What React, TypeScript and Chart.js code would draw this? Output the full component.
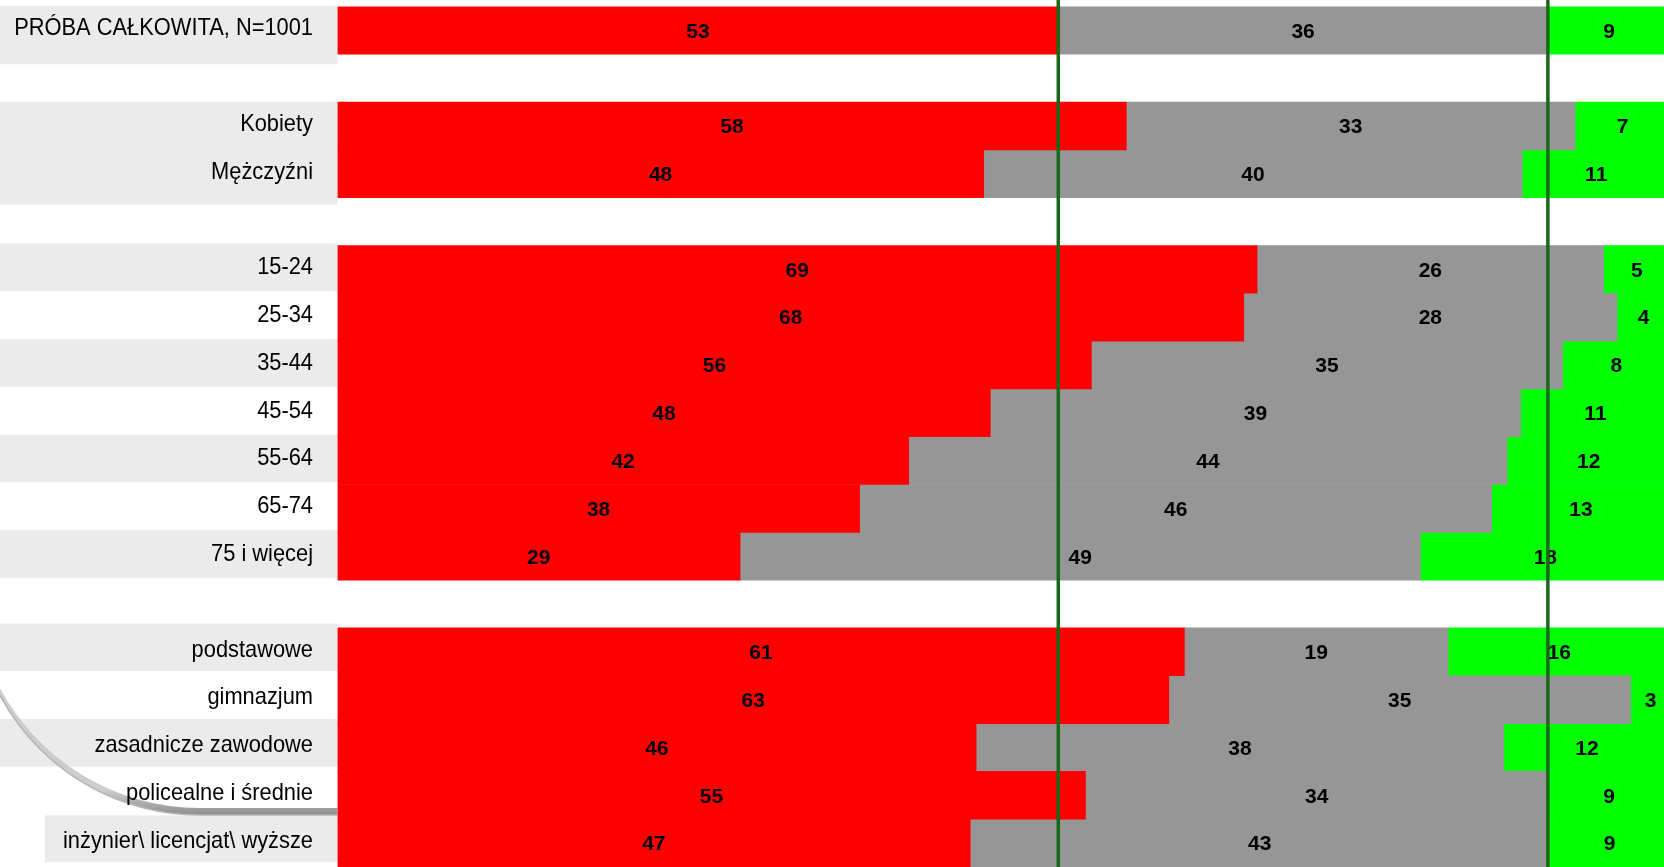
import React, { useEffect, useRef } from 'react';
import { Chart, registerables } from 'chart.js';

Chart.register(...registerables);

const categories = [
  'PRÓBA CAŁKOWITA, N=1001',
  '',
  'Kobiety',
  'Mężczyźni',
  '',
  '15-24',
  '25-34',
  '35-44',
  '45-54',
  '55-64',
  '65-74',
  '75 i więcej',
  '',
  'podstawowe',
  'gimnazjum',
  'zasadnicze zawodowe',
  'policealne i średnie',
  'inżynier\\ licencjat\\ wyższe',
];

const redValues = [53, null, 58, 48, null, 69, 68, 56, 48, 42, 38, 29, null, 61, 63, 46, 55, 47];
const grayValues = [36, null, 33, 40, null, 26, 28, 35, 39, 44, 46, 49, null, 19, 35, 38, 34, 43];
const greenValues = [9, null, 7, 11, null, 5, 4, 8, 11, 12, 13, 18, null, 16, 3, 12, 9, 9];

// row whose cumulative shares define the two reference lines
const referenceRow = 0;

const RED = '#FF0000';
const GRAY = '#969696';
const GREEN = '#00FF00';
const BAND = '#EBEBEB';
const LINE = '#176817';
const FONT = '"Liberation Sans", Arial, sans-serif';

function drawText(
  ctx: CanvasRenderingContext2D,
  text: string,
  x: number,
  y: number,
  align: CanvasTextAlign,
  font: string,
  color: string,
  sx: number
) {
  ctx.save();
  ctx.translate(x, y);
  ctx.scale(sx, 1);
  ctx.font = font;
  ctx.fillStyle = color;
  ctx.textAlign = align;
  ctx.textBaseline = 'alphabetic';
  ctx.fillText(text, 0, 0);
  ctx.restore();
}

export default function App() {
  const ref = useRef<HTMLCanvasElement>(null);

  useEffect(() => {
    document.body.style.margin = '0';
    document.body.style.overflow = 'hidden';
    const canvas = ref.current!;

    const sums = redValues.map((v, i) =>
      v == null ? null : (v as number) + (grayValues[i] as number) + (greenValues[i] as number)
    );
    const pct = (arr: (number | null)[]) =>
      arr.map((v, i) => (v == null ? null : ((v as number) / (sums[i] as number)) * 100));

    const rawSets = [redValues, grayValues, greenValues];

    const slot = (chart: any, i: number) => {
      const y = chart.scales.y;
      const c = y.getPixelForValue(i);
      const h = (y.bottom - y.top) / categories.length;
      return { top: c - h / 2, bottom: c + h / 2, center: c, h };
    };

    const tablePlugin = {
      id: 'tablePlugin',
      beforeDatasetsDraw(chart: any) {
        const ctx = chart.ctx as CanvasRenderingContext2D;
        const left = chart.chartArea.left;
        ctx.save();
        ctx.fillStyle = BAND;
        {
          const s = slot(chart, 0);
          ctx.fillRect(0, s.top - 0.4, left, s.h + 10.4);
        }
        {
          const a = slot(chart, 2);
          const b = slot(chart, 3);
          ctx.fillRect(0, a.top, left, b.bottom + 7 - a.top);
        }
        [5, 7, 9, 11].forEach((i) => {
          const s = slot(chart, i);
          ctx.fillRect(0, s.top - 2, left, s.h - 0.3);
        });
        [13, 15].forEach((i) => {
          const s = slot(chart, i);
          ctx.fillRect(0, s.top - 4.5, left, s.h - 0.3);
        });
        {
          const s = slot(chart, 17);
          ctx.fillRect(45, s.top - 3.8, left - 45, s.h - 1);
        }

        // decorative rounded corner with shadow
        const cx = 200;
        const cy = 588;
        const r = 227;
        const d = 7;
        const grad = ctx.createLinearGradient(0, 790, 0, 817);
        grad.addColorStop(0, 'rgba(200,200,200,0.9)');
        grad.addColorStop(1, 'rgba(135,135,135,1)');
        ctx.beginPath();
        ctx.arc(cx, cy, r, Math.PI * 0.85, Math.PI * 0.5, true);
        ctx.lineTo(left, cy + r);
        ctx.lineTo(left, cy + r - d);
        ctx.lineTo(cx, cy + r - d);
        ctx.arc(cx, cy - d, r, Math.PI * 0.5, Math.PI * 0.85, false);
        ctx.closePath();
        ctx.fillStyle = grad;
        ctx.fill();
        ctx.beginPath();
        ctx.arc(cx, cy, r, Math.PI * 1.0, Math.PI * 0.5, true);
        ctx.lineTo(left, cy + r);
        ctx.strokeStyle = '#b4b4b4';
        ctx.lineWidth = 1.5;
        ctx.stroke();

        categories.forEach((label, i) => {
          if (!label) return;
          const s = slot(chart, i);
          drawText(ctx, label, 313, s.center + 4.8, 'right', `24px ${FONT}`, '#000000', 0.91);
        });
        ctx.restore();
      },
    };

    const labelsPlugin = {
      id: 'labelsPlugin',
      afterDatasetsDraw(chart: any) {
        const ctx = chart.ctx as CanvasRenderingContext2D;
        rawSets.forEach((arr, d) => {
          const meta = chart.getDatasetMeta(d);
          meta.data.forEach((el: any, i: number) => {
            const v = arr[i];
            if (v == null) return;
            const p = el.getProps(['x', 'base', 'y'], true);
            const cxp = (p.x + p.base) / 2;
            drawText(ctx, String(v), cxp, p.y + 7.3, 'center', `bold 21px ${FONT}`, '#000000', 1);
          });
        });

        const xs = chart.scales.x;
        const s0 = sums[referenceRow] as number;
        const r0 = ((redValues[referenceRow] as number) / s0) * 100;
        const g0 = r0 + ((grayValues[referenceRow] as number) / s0) * 100;
        ctx.save();
        ctx.strokeStyle = LINE;
        ctx.lineWidth = 3.5;
        [r0, g0].forEach((v) => {
          const px = xs.getPixelForValue(v);
          ctx.beginPath();
          ctx.moveTo(px, 0);
          ctx.lineTo(px, chart.height);
          ctx.stroke();
        });
        ctx.restore();
      },
    };

    const chart = new Chart(canvas, {
      type: 'bar',
      data: {
        labels: categories,
        datasets: [
          { label: 'red', data: pct(redValues), backgroundColor: RED },
          { label: 'gray', data: pct(grayValues), backgroundColor: GRAY },
          { label: 'green', data: pct(greenValues), backgroundColor: GREEN },
        ],
      },
      options: {
        indexAxis: 'y',
        responsive: false,
        animation: false,
        layout: { padding: { left: 337.5, top: 6.4, right: 0, bottom: 0 } },
        datasets: {
          bar: { barPercentage: 1, categoryPercentage: 1, borderWidth: 0 },
        },
        scales: {
          x: { stacked: true, min: 0, max: 99.53, display: false },
          y: { stacked: true, display: false },
        },
        plugins: {
          legend: { display: false },
          tooltip: { enabled: false },
        },
      } as any,
      plugins: [tablePlugin, labelsPlugin],
    });

    return () => chart.destroy();
  }, []);

  return (
    <canvas
      ref={ref}
      width={1664}
      height={867}
      style={{ position: 'fixed', left: 0, top: 0, display: 'block', width: 1664, height: 867 }}
    />
  );
}
